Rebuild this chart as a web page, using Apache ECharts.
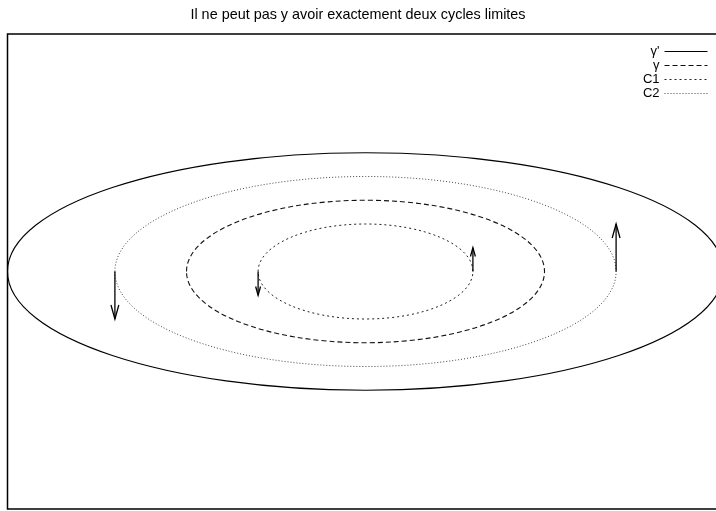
<!DOCTYPE html>
<html>
<head>
<meta charset="utf-8">
<script src="https://cdn.jsdelivr.net/npm/echarts@6/dist/echarts.min.js"></script>
<style>
  html, body { margin: 0; padding: 0; background: #fff; }
  #chart { width: 716px; height: 511px; }
</style>
</head>
<body>
<div id="chart"></div>
<script>
// ellipses centred on the origin, semi-axes in data units
const curveNames = ["γ'", "γ", "C1", "C2"];
const centerX = [0, 0, 0, 0];
const centerY = [0, 0, 0, 0];
const semiAxisX = [10, 5, 3, 7];
const semiAxisY = [5, 3, 2, 4];

// arrows showing the flow direction
const arrowX = [-7, 7, -3, 3];
const arrowYFrom = [0, 0, 0, 0];
const arrowYTo = [-2, 2, -1, 1];

const xRange = [-10, 10];
const yRange = [-10, 10];

const titleText = "Il ne peut pas y avoir exactement deux cycles limites";

const lineStyles = {
  "γ'": { color: "#000", width: 1.1, type: "solid" },
  "γ": { color: "#111", width: 1.1, type: [5, 3] },
  "C1": { color: "#222", width: 1, type: [2, 3] },
  "C2": { color: "#444", width: 1, type: [1, 2] },
};

const chart = echarts.init(document.getElementById("chart"));

// empty line series, only used for the legend samples
const legendSeries = curveNames.map((name) => ({
  name: name,
  type: "line",
  data: [],
  symbol: "none",
  lineStyle: lineStyles[name],
  itemStyle: { opacity: 0 },
  silent: true,
}));

const ellipseSeries = curveNames.map((name, i) => ({
  name: name,
  type: "custom",
  silent: true,
  data: [[centerX[i], centerY[i], semiAxisX[i], semiAxisY[i]]],
  encode: { x: 0, y: 1 },
  renderItem: (params, api) => {
    const c = api.coord([api.value(0), api.value(1)]);
    const rx = api.size([api.value(2), 0])[0];
    const ry = api.size([0, api.value(3)])[1];
    const st = lineStyles[name];
    return {
      type: "ellipse",
      shape: { cx: c[0], cy: c[1], rx: rx, ry: ry },
      style: {
        fill: "none",
        stroke: st.color,
        lineWidth: st.width,
        lineDash: st.type === "solid" ? null : st.type,
      },
    };
  },
}));

const arrowSeries = {
  name: "arrows",
  type: "custom",
  silent: true,
  data: arrowX.map((x, i) => [x, arrowYFrom[i], x, arrowYTo[i]]),
  encode: { x: [0, 2], y: [1, 3] },
  renderItem: (params, api) => {
    const p0 = api.coord([api.value(0), api.value(1)]);
    const p1 = api.coord([api.value(2), api.value(3)]);
    const dx = p1[0] - p0[0];
    const dy = p1[1] - p0[1];
    const len = Math.sqrt(dx * dx + dy * dy);
    const ux = dx / len;
    const uy = dy / len;
    const hl = Math.min(14, len * 0.37);
    const hw = hl * 0.28;
    const bx = p1[0] - ux * hl;
    const by = p1[1] - uy * hl;
    const style = { stroke: "#000", lineWidth: 1.3, fill: "none" };
    return {
      type: "group",
      children: [
        { type: "line", shape: { x1: p0[0], y1: p0[1], x2: p1[0], y2: p1[1] }, style: style },
        {
          type: "polyline",
          shape: {
            points: [
              [bx - uy * hw, by + ux * hw],
              [p1[0], p1[1]],
              [bx + uy * hw, by - ux * hw],
            ],
          },
          style: style,
        },
      ],
    };
  },
};

chart.setOption({
  animation: false,
  backgroundColor: "#fff",
  title: {
    text: titleText,
    left: "center",
    top: 3,
    textStyle: {
      fontFamily: "Liberation Sans",
      fontSize: 14.4,
      fontWeight: "normal",
      color: "#000",
    },
  },
  legend: {
    data: curveNames,
    orient: "vertical",
    right: 3,
    top: 40,
    align: "right",
    itemWidth: 43,
    itemHeight: 14,
    itemGap: 1,
    selectedMode: false,
    itemStyle: { opacity: 0 },
    lineStyle: { width: 1 },
    textStyle: { fontFamily: "Liberation Sans", fontSize: 13, color: "#000" },
  },
  grid: {
    left: 7.5,
    top: 34,
    width: 716,
    height: 475,
    outerBoundsMode: "none",
    show: true,
    borderColor: "#000",
    borderWidth: 1.5,
    backgroundColor: "transparent",
  },
  xAxis: { type: "value", min: xRange[0], max: xRange[1], show: false },
  yAxis: { type: "value", min: yRange[0], max: yRange[1], show: false },
  series: [...legendSeries, ...ellipseSeries, arrowSeries],
});

window.addEventListener("resize", () => chart.resize());
</script>
</body>
</html>
